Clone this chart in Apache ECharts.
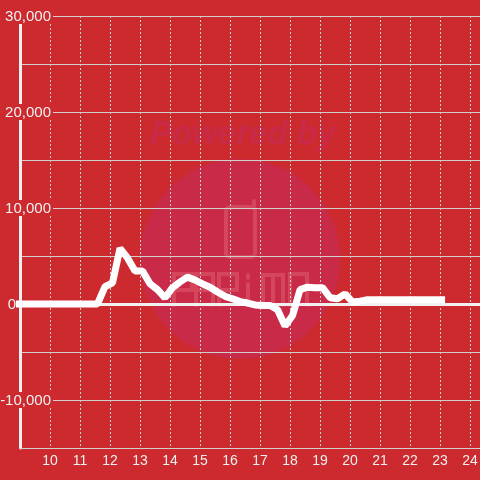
<!DOCTYPE html>
<html>
<head>
<meta charset="utf-8">
<style>
html, body { margin: 0; padding: 0; background: #cc2a2e; }
#main { width: 480px; height: 480px; }
</style>
<script src="https://cdn.jsdelivr.net/npm/echarts@6/dist/echarts.min.js"></script>
</head>
<body>
<div id="main"></div>
<script>
var bgColor = '#cc2a2e';
var hours = [8, 11.583, 11.833, 12.083, 12.333, 12.583, 12.833, 13.083, 13.333, 13.583, 13.833, 14.083, 14.333, 14.583, 14.833, 15.083, 15.333, 15.583, 15.833, 16.083, 16.333, 16.583, 16.833, 17.083, 17.333, 17.583, 17.833, 18.083, 18.333, 18.583, 18.833, 19.083, 19.333, 19.583, 19.833, 20.083, 20.333, 20.583, 23.167];
var values = [0, 0, 1800, 2200, 5800, 4800, 3450, 3450, 2100, 1500, 650, 1700, 2300, 2800, 2500, 2100, 1750, 1250, 800, 550, 250, 100, -100, -150, -150, -600, -2300, -1200, 1500, 1750, 1700, 1700, 650, 550, 1050, 200, 300, 450, 450];
var yTicks = [-15000, -10000, -5000, 0, 5000, 10000, 15000, 20000, 25000, 30000];
var markColor = '#d4465c';
var gridColor = '#d0d0cc';

// watermark strokes, drawn behind the grid
var strokes = [
    [[174, 305], [174, 274], [192, 274], [192, 290], [174, 290]],
    [[196, 305], [196, 274], [213, 274], [213, 305]],
    [[196, 290], [213, 290]],
    [[219, 305], [219, 274], [237, 274], [237, 290], [219, 290]],
    [[248, 284], [248, 305]],
    [[248, 275], [248, 278]],
    [[263, 305], [263, 275], [283, 275], [283, 305]],
    [[273, 275], [273, 305]],
    [[290, 305], [290, 274], [307, 274], [307, 305]],
    [[254, 207], [254, 201]]
];

var chart = echarts.init(document.getElementById('main'), null, {renderer: 'canvas'});

var graphics = [
    { type: 'circle', z: -1, shape: { cx: 240, cy: 259, r: 100 }, style: { fill: '#c82a48' } },
    { type: 'text', z: -1, style: { x: 150, y: 118, text: 'Powered by', fill: '#c92a48', font: 'italic bold 33px "Liberation Sans"' } },
    { type: 'rect', z: -1, shape: { x: 226, y: 207, width: 29, height: 50, r: 4 }, style: { fill: 'none', stroke: markColor, lineWidth: 4 } }
];
strokes.forEach(function (points) {
    graphics.push({
        type: 'polyline',
        z: -1,
        shape: { points: points },
        style: { fill: 'none', stroke: markColor, lineWidth: 4, lineCap: 'round' }
    });
});

chart.setOption({
    backgroundColor: bgColor,
    animation: false,
    textStyle: { fontFamily: 'Liberation Sans' },
    grid: { left: 20, right: 0, top: 16, bottom: 32, outerBoundsMode: 'none' },
    xAxis: {
        type: 'value',
        min: 9,
        max: 24.33,
        interval: 1,
        axisLine: { onZero: false, lineStyle: { color: gridColor, width: 1 } },
        axisTick: { show: false },
        axisLabel: {
            color: '#f0f0f0',
            fontSize: 14,
            margin: 6,
            showMinLabel: false,
            showMaxLabel: false
        },
        splitLine: { show: true, lineStyle: { color: gridColor, width: 1, type: [2, 2] } }
    },
    yAxis: {
        type: 'value',
        min: yTicks[0],
        max: yTicks[yTicks.length - 1],
        interval: 5000,
        axisLine: { show: true, lineStyle: { color: '#f0f0f0', width: 3 } },
        axisTick: { show: false },
        axisLabel: {
            margin: -33,
            formatter: function (v) {
                if (v === 0) {
                    return '{z|0}';
                }
                if (v % 10000 !== 0) {
                    return '';
                }
                return '{n|' + echarts.format.addCommas(v) + '}';
            },
            rich: {
                n: { color: '#f0f0f0', fontSize: 15, backgroundColor: bgColor, padding: [1, 2, 0, 2] },
                z: { color: '#f0f0f0', fontSize: 15, padding: [1, 37, 0, 0] }
            }
        },
        splitLine: { show: true, lineStyle: { color: gridColor, width: 1 } }
    },
    graphic: graphics,
    series: [
        {
            type: 'line',
            data: hours.map(function (h, i) { return [h, values[i]]; }),
            symbol: 'none',
            z: 5,
            lineStyle: { color: '#ffffff', width: 7 },
            markLine: {
                silent: true,
                symbol: 'none',
                label: { show: false },
                z: 4,
                lineStyle: { color: '#f0f0f0', width: 3, type: 'solid' },
                data: [{ yAxis: 0 }]
            }
        }
    ]
});
</script>
</body>
</html>
